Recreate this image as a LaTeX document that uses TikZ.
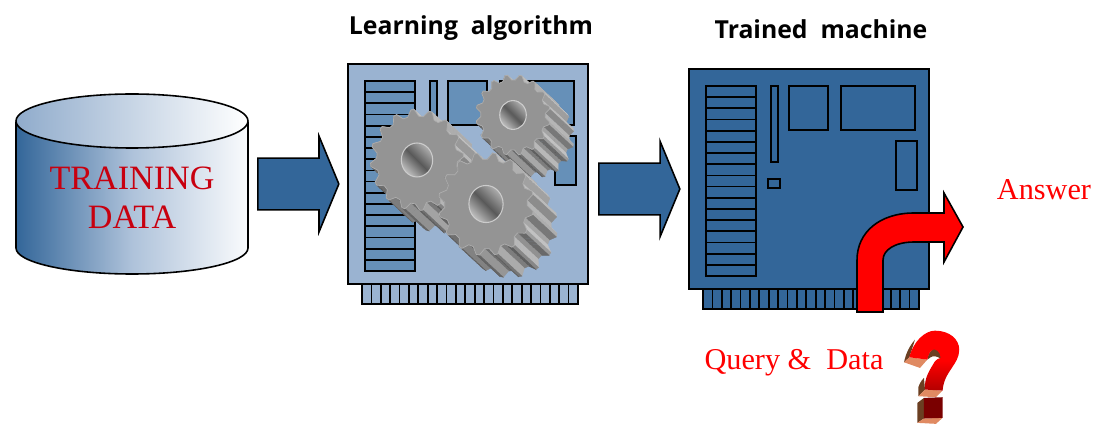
\documentclass[tikz,border=0pt]{standalone}
\usepackage{fontspec}
\setmainfont{Liberation Serif}
\newfontfamily\headfont{Open Sans}
\usetikzlibrary{shapes.arrows}

\definecolor{boardblue}{HTML}{336699}
\definecolor{boardpale}{HTML}{9AB3D1}
\definecolor{chipblue}{HTML}{6690B8}
\definecolor{wordred}{HTML}{C8000F}
\definecolor{markside}{HTML}{6B3F22}
\definecolor{markunder}{HTML}{E08A62}
\definecolor{markdark}{HTML}{7A0000}

\tikzset{
    main arrow/.style={single arrow,draw=black,fill=boardblue,line width=0.45pt,anchor=tail,inner sep=0.25cm,
        text width=0pt,single arrow tip angle=135,shape border rotate=0,single arrow head extend=0.22cm},
    head label/.style={font=\headfont\bfseries\fontsize{7.05}{9}\selectfont},
    red label/.style={text=red,font=\fontsize{8.6}{10}\selectfont},
    data label/.style={text=wordred,font=\fontsize{9.7}{11}\selectfont,align=center},
}

% one card, corner of the card at #1,#2
\newcommand{\cardboard}[4]{
    \begin{scope}[shift={(#1,#2)},draw=black,line width=0.5pt]
        \filldraw[fill=#3] (14,219) rectangle (230,240);
        \foreach \t in {1,...,22}
            \draw ({14+\t*9.39},219) -- ({14+\t*9.39},240);
        \filldraw[fill=#3] (0,0) rectangle (240,220);
        \filldraw[fill=#4] (17,17) rectangle (67,207);
        \foreach \r in {1,...,16}
            \draw (17,{17+\r*11.18}) -- (67,{17+\r*11.18});
        \filldraw[fill=#4] (82,17) rectangle (89,93);
        \filldraw[fill=#4] (100,17) rectangle (139,61);
        \filldraw[fill=#4] (152,17) rectangle (226,61);
        \filldraw[fill=#4] (207,72) rectangle (228,121);
        \filldraw[fill=#4] (79,110) rectangle (91,119);
    \end{scope}
}

% one wheel: centre #1,#2, tip radius #3, root radius #4, hole radius #5, turn #6
\newcommand{\gearwheel}[6]{
    \begin{scope}[shift={(#1,#2)},xscale=0.95,yscale=1.03]
        \foreach \k in {21,18,...,0}
            \foreach \i in {0,...,15}
                \foreach \p/\q/\ra/\rb/\n in {0/6/#4/#3/-55,6/10/#3/#3/8,10/16/#3/#4/70,16/22.5/#4/#4/19}{
                    \pgfmathsetmacro\aa{#6+\i*22.5+\p}
                    \pgfmathsetmacro\ab{#6+\i*22.5+\q}
                    \pgfmathsetmacro\v{int(44-20*cos(#6+\i*22.5+\n+45))}
                    \filldraw[draw=black!\v,fill=black!\v,line width=0.1pt,shift={(\k*1.05,\k*0.9)}]
                        (\aa:\ra) -- (\ab:\rb) -- ([shift={(3.2,2.7)}]\ab:\rb) -- ([shift={(3.2,2.7)}]\aa:\ra) -- cycle;
                }
        \filldraw[draw=black!32,fill=black!42,line width=0.2pt] (#6:#4)
            \foreach \i in {0,...,15}{
                -- ({#6+\i*22.5+6}:#3) -- ({#6+\i*22.5+10}:#3) -- ({#6+\i*22.5+16}:#4) -- ({#6+\i*22.5+22.5}:#4)
            } -- cycle;
        \shade[top color=black!32,bottom color=black!25,middle color=black!65,shading angle=-45]
            (0,0) circle (#5);
        \draw[black!20,line width=0.3pt] (0,0) circle (#5);
    \end{scope}
}

\begin{document}
\begin{tikzpicture}[x=0.01cm,y=-0.01cm]
    \useasboundingbox (0,0) rectangle (1104,434);

    % training data
    \shade[left color=boardblue,right color=white!95!boardpale,middle color=boardpale!80!white]
        (16,122) -- (16,248) arc[start angle=180,end angle=0,x radius=116,y radius=26] -- (248,122) -- cycle;
    \draw[line width=0.45pt] (16,122) -- (16,248) arc[start angle=180,end angle=0,x radius=116,y radius=26] -- (248,122);
    \shade[left color=boardpale!90!boardblue,right color=white] (132,121) ellipse (116 and 27);
    \draw[line width=0.45pt] (132,121) ellipse (116 and 27);
    \node[data label] at (132,198) (data) {TRAINING\\DATA};

    \node[main arrow,minimum height=0.81cm] at (257,184) (first) {};

    % learning algorithm
    \node[head label] at (471,28) (learning) {Learning\ \ algorithm};
    \cardboard{348}{64}{boardpale}{chipblue}
    \gearwheel{513}{115}{39}{34}{14}{4}
    \gearwheel{417}{160}{49}{42.5}{16.5}{9}
    \gearwheel{486}{204}{50}{43.5}{18}{2}

    \node[main arrow,minimum height=0.81cm] at (598,189) (second) {};

    % trained machine
    \node[head label] at (821,29) (trained) {Trained\ \ machine};
    \cardboard{689}{69}{boardblue}{boardblue}

    \filldraw[fill=red,draw=black,line width=0.45pt] (857,312) -- (857,260)
        .. controls (857,232) and (880,213) .. (914,213) -- (944,213) -- (944,193) -- (963,227)
        -- (944,262) -- (944,242) -- (914,242)
        .. controls (895,242) and (883,250) .. (883,260) -- (883,312) -- cycle;
    \node[red label] at (1044,190) (answer) {Answer};
    \node[red label] at (794,363) (query) {Query \&\ \ Data};

    % question mark, in thirds of a pixel
    \begin{scope}[shift={(900,328)},x=0.00333cm,y=-0.00333cm]
        \fill[markside] (12,103) .. controls (18,75) and (28,55) .. (45,35) -- (28,88) -- cycle;
        \fill[markside] (55,205) -- (75,185) -- (72,150) .. controls (63,158) and (58,170) .. (55,178) -- cycle;
        \fill[markside] (52,225) -- (72,210) -- (72,272) -- (52,285) -- cycle;
        \fill[markunder] (12,103) -- (28,88) -- (82,95) -- (60,120) -- cycle;
        \fill[markunder] (55,205) -- (75,185) -- (128,188) -- (108,208) -- cycle;
        \fill[markunder] (52,285) -- (72,272) -- (128,270) -- (108,288) -- cycle;
        \fill[markside] (82,95) .. controls (85,70) and (100,60) .. (108,62)
            .. controls (122,65) and (125,85) .. (122,92) .. controls (112,85) and (100,82) .. (92,88) -- cycle;
        \shade[top color=red,bottom color=red!70!black,middle color=red] (28,88)
            .. controls (40,40) and (75,8) .. (105,8)
            .. controls (150,8) and (178,35) .. (178,65)
            .. controls (178,110) and (132,130) .. (128,188) -- (75,185)
            .. controls (72,150) and (90,125) .. (105,100)
            .. controls (110,94) and (116,91) .. (122,90)
            .. controls (122,70) and (105,62) .. (100,65)
            .. controls (90,68) and (85,80) .. (82,95) -- cycle;
        \fill[markdark] (72,210) -- (128,208) -- (128,270) -- (72,272) -- cycle;
    \end{scope}
\end{tikzpicture}
\end{document}
